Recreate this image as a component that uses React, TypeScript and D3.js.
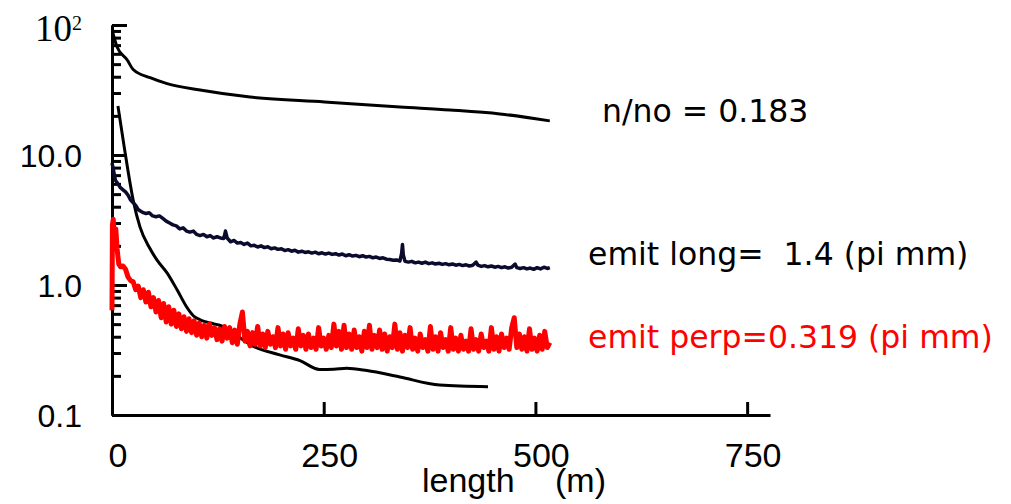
import React, { useEffect, useRef } from "react";
import * as d3 from "d3";

// n/no curve (smooth, top)
const densityData: [number, number][] = [
  [1, 86.8], [6, 67.7], [18, 53.8], [25, 45.5], [45, 39.3], [65, 35.4],
  [104, 31.6], [163, 27.9], [251, 25.6], [340, 23.4], [399, 22.2],
  [458, 20.7], [517, 18.3],
];

// steep smooth curve
const decayData: [number, number][] = [
  [7, 23.8], [15, 10.9], [25, 4.5], [33, 2.8], [44, 1.95], [53, 1.56], [65, 1.24],
  [77, 0.915], [88, 0.68], [96, 0.58], [104, 0.54], [116, 0.51], [127, 0.49],
  [143, 0.428], [166, 0.34], [198, 0.29], [222, 0.262], [245, 0.224],
  [262, 0.225], [277, 0.229], [301, 0.22], [340, 0.196], [387, 0.17], [444, 0.165],
];

// emit long (noisy, dark navy)
const longData: [number, number][] = [
  [0, 8.7], [2, 7.5], [4, 6.4], [7, 6.0], [10, 5.6], [13, 5.4], [16, 5.2],
  [19, 4.9], [22, 4.5], [25, 4.3], [28, 4.1], [31, 3.8], [34, 3.7], [37, 3.6],
  [40, 3.55], [44, 3.6], [48, 3.4], [52, 3.35], [56, 3.4], [60, 3.25],
  [64, 3.1], [68, 3.0], [72, 2.9], [76, 2.85], [80, 2.7], [84, 2.75],
  [88, 2.6], [92, 2.55], [96, 2.6], [100, 2.45], [104, 2.4], [108, 2.45],
  [112, 2.35], [116, 2.4], [120, 2.3], [124, 2.35], [128, 2.3], [132, 2.28],
  [134, 2.6], [136, 2.3], [140, 2.15], [144, 2.2], [148, 2.1], [152, 2.12],
  [156, 2.05], [160, 2.1], [164, 2.0], [168, 2.02], [172, 1.96], [176, 2.0],
  [180, 1.94], [184, 1.97], [188, 1.9], [192, 1.93], [196, 1.88], [200, 1.9],
  [204, 1.84], [208, 1.87], [212, 1.82], [216, 1.85], [220, 1.79], [224, 1.82],
  [228, 1.78], [232, 1.8], [236, 1.76], [240, 1.79], [244, 1.74], [248, 1.77],
  [252, 1.73], [256, 1.76], [260, 1.72], [264, 1.74], [268, 1.7], [272, 1.73],
  [276, 1.68], [280, 1.71], [284, 1.67], [288, 1.69], [292, 1.65], [296, 1.68],
  [300, 1.64], [304, 1.66], [308, 1.62], [312, 1.64], [316, 1.6], [320, 1.62],
  [324, 1.58], [328, 1.57], [332, 1.55], [336, 1.56], [340, 1.53], [342, 1.75],
  [343, 2.05], [344, 1.7], [346, 1.52], [350, 1.5], [354, 1.52], [358, 1.48],
  [362, 1.5], [366, 1.47], [370, 1.5], [374, 1.46], [378, 1.48], [382, 1.45],
  [386, 1.47], [390, 1.44], [394, 1.46], [398, 1.43], [402, 1.45], [406, 1.42],
  [410, 1.44], [414, 1.41], [418, 1.43], [422, 1.4], [426, 1.42], [430, 1.5],
  [432, 1.42], [436, 1.39], [440, 1.41], [444, 1.38], [448, 1.4], [452, 1.37],
  [456, 1.39], [460, 1.36], [464, 1.38], [468, 1.35], [472, 1.37], [476, 1.45],
  [478, 1.36], [482, 1.34], [486, 1.36], [490, 1.33], [494, 1.35], [498, 1.32],
  [502, 1.36], [506, 1.33], [510, 1.37], [514, 1.34], [517, 1.36],
];

// emit perp (noisy, red)
const perpData: [number, number][] = [
  [0, 0.64], [0.5, 2.9], [1.5, 3.2], [3, 2.2], [4.5, 2.7], [6, 1.9], [8, 1.45],
  [10, 1.38], [13, 1.4], [16, 1.32], [19, 1.15], [22, 1.08], [25, 1.06],
  [28, 0.92], [31, 0.98], [34, 0.8], [37, 0.92], [40, 0.74], [43, 0.88],
  [46, 0.68], [49, 0.8], [52, 0.62], [55, 0.76], [58, 0.56], [61, 0.72],
  [64, 0.52], [67, 0.68], [70, 0.5], [73, 0.64], [76, 0.48], [79, 0.6],
  [82, 0.46], [85, 0.57], [88, 0.44], [91, 0.55], [94, 0.43], [97, 0.53],
  [100, 0.41], [103, 0.51], [106, 0.4], [109, 0.49], [112, 0.39], [115, 0.5],
  [118, 0.41], [121, 0.47], [124, 0.38], [127, 0.46], [130, 0.37], [133, 0.48],
  [136, 0.39], [139, 0.47], [142, 0.36], [145, 0.45], [148, 0.35], [151, 0.5],
  [154, 0.62], [157, 0.37], [160, 0.44], [163, 0.34], [166, 0.43], [169, 0.35],
  [172, 0.48], [175, 0.34], [178, 0.42], [181, 0.33], [184, 0.44], [187, 0.35],
  [190, 0.4], [193, 0.33], [196, 0.47], [199, 0.34], [202, 0.42], [205, 0.32],
  [208, 0.43], [211, 0.34], [214, 0.39], [217, 0.32], [220, 0.46], [223, 0.34],
  [226, 0.41], [229, 0.32], [232, 0.42], [235, 0.33], [238, 0.39], [241, 0.32],
  [244, 0.47], [247, 0.34], [250, 0.39], [253, 0.32], [256, 0.41], [259, 0.33],
  [262, 0.5], [265, 0.34], [268, 0.44], [271, 0.32], [274, 0.49], [277, 0.33],
  [280, 0.42], [283, 0.32], [286, 0.45], [289, 0.33], [292, 0.4], [295, 0.31],
  [298, 0.44], [301, 0.33], [304, 0.49], [307, 0.32], [310, 0.41], [313, 0.33],
  [316, 0.45], [319, 0.32], [322, 0.42], [325, 0.31], [328, 0.4], [331, 0.33],
  [334, 0.5], [337, 0.32], [340, 0.43], [343, 0.31], [346, 0.41], [349, 0.33],
  [352, 0.47], [355, 0.32], [358, 0.39], [361, 0.31], [364, 0.42], [367, 0.33],
  [370, 0.38], [373, 0.31], [376, 0.48], [379, 0.32], [382, 0.4], [385, 0.31],
  [388, 0.43], [391, 0.33], [394, 0.38], [397, 0.31], [400, 0.47], [403, 0.32],
  [406, 0.39], [409, 0.31], [412, 0.41], [415, 0.32], [418, 0.37], [421, 0.31],
  [424, 0.46], [427, 0.32], [430, 0.38], [433, 0.31], [436, 0.42], [439, 0.33],
  [442, 0.37], [445, 0.31], [448, 0.47], [451, 0.32], [454, 0.4], [457, 0.31],
  [460, 0.42], [463, 0.33], [466, 0.39], [469, 0.32], [472, 0.47], [475, 0.56],
  [478, 0.33], [481, 0.42], [484, 0.32], [487, 0.4], [490, 0.31], [493, 0.46],
  [496, 0.32], [499, 0.39], [502, 0.31], [505, 0.41], [508, 0.32], [511, 0.44],
  [514, 0.33], [517, 0.36],
];

const xTicks = [0, 250, 500, 750];
const yMajorTicks = [0.1, 1, 10, 100];
const yMinorTicks = [
  0.2, 0.3, 0.4, 0.5, 0.6, 0.7, 0.8, 0.9,
  2, 3, 4, 5, 6, 7, 8, 9,
  20, 30, 40, 50, 60, 70, 80, 90,
];
const yTickLabels = ["0.1", "1.0", "10.0"];

const labels = [
  { text: "n/no = 0.183", color: "#000", x: 602, y: 122 },
  { text: "emit long=  1.4 (pi mm)", color: "#000", x: 588, y: 265 },
  { text: "emit perp=0.319 (pi mm)", color: "#ff0000", x: 588, y: 348 },
];

const App = () => {
  const svgRef = useRef<SVGSVGElement>(null);

  useEffect(() => {
    const svg = d3.select(svgRef.current);
    svg.selectAll("*").remove();

    const x = d3.scaleLinear().domain([0, 777]).range([112, 770]);
    const y = d3.scaleLog().domain([0.1, 100]).range([415, 25]);

    const sans = "'Liberation Sans', Arial, sans-serif";

    // y axis: minor + major ticks pointing inward
    const yMinor = svg.append("g").attr("transform", `translate(${x(0)},0)`)
      .call(d3.axisRight(y).tickValues(yMinorTicks).tickSize(9).tickSizeOuter(0).tickFormat(() => ""));
    const yMajor = svg.append("g").attr("transform", `translate(${x(0)},0)`)
      .call(d3.axisRight(y).tickValues(yMajorTicks).tickSize(15).tickSizeOuter(0).tickFormat(() => ""));
    [yMinor, yMajor].forEach((g) => {
      g.selectAll("path").attr("stroke", "#000").attr("stroke-width", 3);
      g.selectAll("line").attr("stroke", "#000").attr("stroke-width", 3);
    });

    // x axis with upward ticks
    const xAxis = svg.append("g").attr("transform", `translate(0,${y(0.1)})`)
      .call(d3.axisTop(x).tickValues([250, 500, 750]).tickSize(13).tickSizeOuter(0).tickFormat(() => ""));
    xAxis.selectAll("path").attr("stroke", "#000").attr("stroke-width", 3);
    xAxis.selectAll("line").attr("stroke", "#000").attr("stroke-width", 3);

    // x tick labels
    svg.append("g").selectAll("text").data(xTicks).enter().append("text")
      .attr("x", (d) => x(d) + 6)
      .attr("y", 467)
      .attr("text-anchor", "middle")
      .style("font-family", sans)
      .style("font-size", "34px")
      .text((d) => String(d));

    // y tick labels
    svg.append("g").selectAll("text").data(yTickLabels).enter().append("text")
      .attr("x", 82)
      .attr("y", (d) => y(+d) + 12)
      .attr("text-anchor", "end")
      .style("font-family", sans)
      .style("font-size", "32px")
      .text((d) => d);

    const top = svg.append("text")
      .attr("x", 35)
      .attr("y", y(100) + 16)
      .style("font-family", "'Liberation Serif', serif")
      .style("font-size", "37px");
    top.append("tspan").text("10");
    top.append("tspan").attr("dy", -11).style("font-size", "20px").text("2");

    // axis title
    const title = svg.append("text")
      .attr("x", 422)
      .attr("y", 492)
      .style("font-family", sans)
      .style("font-size", "34px");
    title.append("tspan").text("length");
    title.append("tspan").attr("x", 555).text("(m)");

    const line = d3.line<[number, number]>()
      .x((d) => x(d[0]))
      .y((d) => y(d[1]));
    const smooth = d3.line<[number, number]>()
      .x((d) => x(d[0]))
      .y((d) => y(d[1]))
      .curve(d3.curveMonotoneX);

    svg.append("path").datum(densityData).attr("d", smooth)
      .attr("fill", "none").attr("stroke", "#000").attr("stroke-width", 3);
    svg.append("path").datum(decayData).attr("d", smooth)
      .attr("fill", "none").attr("stroke", "#000").attr("stroke-width", 3);
    svg.append("path").datum(longData).attr("d", line)
      .attr("fill", "none").attr("stroke", "#0b0b2e").attr("stroke-width", 3.5)
      .attr("stroke-linejoin", "round");
    svg.append("path").datum(perpData).attr("d", line)
      .attr("fill", "none").attr("stroke", "#ff0000").attr("stroke-width", 5)
      .attr("stroke-linejoin", "round");

    // right-hand annotations
    svg.append("g").selectAll("text").data(labels).enter().append("text")
      .attr("x", (d) => d.x)
      .attr("y", (d) => d.y)
      .attr("fill", (d) => d.color)
      .style("font-family", "'DejaVu Sans', sans-serif")
      .style("font-size", "31.5px")
      .style("white-space", "pre")
      .text((d) => d.text);
  }, []);

  return (
    <svg ref={svgRef} width={1011} height={504}
      style={{ position: "absolute", left: 0, top: 0, background: "#fff" }} />
  );
};

export default App;
